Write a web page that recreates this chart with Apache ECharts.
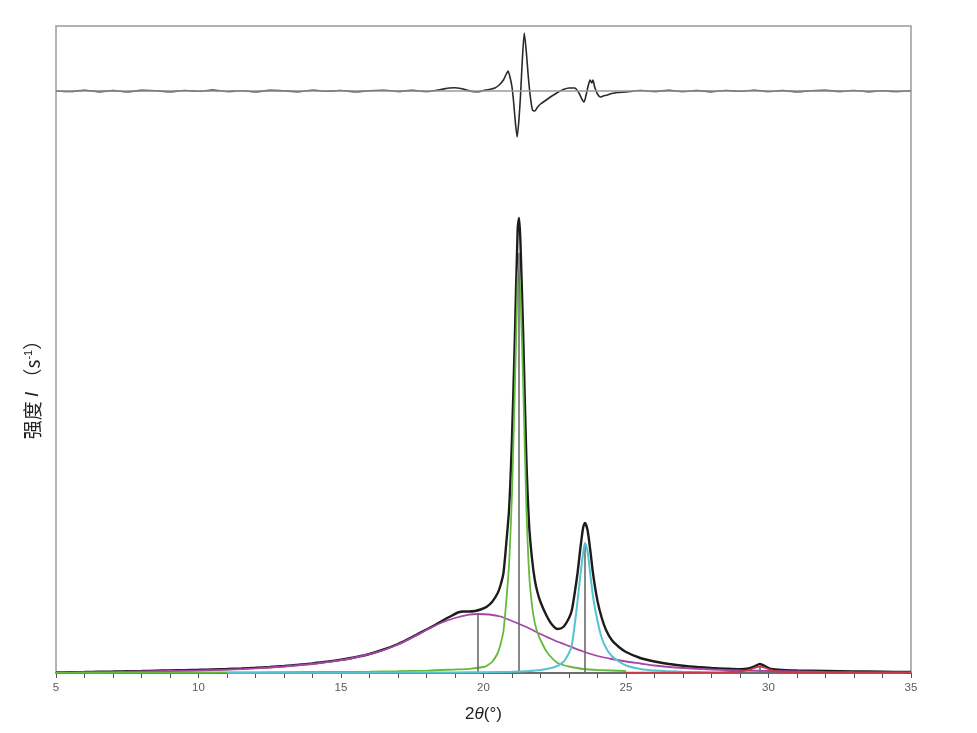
<!DOCTYPE html>
<html>
<head>
<meta charset="utf-8">
<script src="https://cdn.jsdelivr.net/npm/echarts@6/dist/echarts.min.js"></script>
<style>
html,body{margin:0;padding:0;background:#fff;}
#chart{width:977px;height:733px;}
</style>
</head>
<body>
<div id="chart"></div>
<script>
// ---- x-axis ticks ----
const xTicks = [5, 10, 15, 20, 25, 30, 35];

// ---- observed pattern (intensity, arbitrary units) ----
const obsX = [5,5.5,6,6.5,7,7.5,8,8.5,9,9.5,10,10.5,11,11.5,12,12.5,13,13.5,14,14.5,15,15.5,16,16.5,17,17.5,18,18.3,18.6,18.9,19.1,19.3,19.5,19.7,19.9,20.1,20.3,20.5,20.6,20.7,20.8,20.9,21,21.1,21.2,21.25,21.3,21.4,21.5,21.6,21.7,21.8,21.9,22,22.2,22.4,22.6,22.8,23,23.1,23.2,23.3,23.4,23.5,23.56,23.65,23.75,23.85,24,24.15,24.3,24.5,24.75,25,25.5,26,26.5,27,27.5,28,28.5,29,29.3,29.5,29.7,29.9,30.1,30.5,31,32,33,34,35];
const obsY = [0.5,0.8,1.0,1.3,1.5,1.8,2.0,2.3,2.6,2.9,3.2,3.6,4.0,4.5,5.2,6.0,7.0,8.2,9.6,11.2,13.2,15.8,19,23.5,29,36,43.5,48,53,57.5,60.5,61.5,61.5,62,63.5,66,71,80,88,100,130,165,235,335,445,455,428,330,218,148,115,93,80,71,58,48.5,44,46,55,63,80,100,125,146,150,143,122,98,72,55,43,33,26,21,15,11.5,9,7.3,6,5,4.3,3.8,4.5,6.5,9,6.5,4,3,2.5,2,1.6,1.3,1];

// ---- amorphous halo (magenta) ----
const amX = [5,6,7,8,9,10,11,12,13,14,15,15.5,16,16.5,17,17.5,18,18.5,19,19.5,19.8,20.2,20.6,21,21.5,22,22.5,23,23.5,24,24.5,25,25.5,26,27,28,29,30,31,32,33,34,35];
const amY = [0.5,0.8,1.1,1.5,2,2.5,3.4,4.6,6.5,9,12.8,15.5,18.8,23,28.5,35.5,43,50,55,58.3,59,58.5,56.5,52,46,39,32.5,27,21.5,17,14,11.5,9.5,7.5,5,3.5,2.5,2,1.5,1.1,0.8,0.6,0.5];

// ---- crystalline peak 1 (green) ----
const p1X = [5,8,10,12,14,16,17,18,18.5,19,19.5,20,20.1,20.3,20.5,20.6,20.7,20.8,20.9,21,21.1,21.2,21.22,21.3,21.4,21.5,21.6,21.7,21.8,21.9,22,22.2,22.4,22.6,22.8,23,23.5,24,25];
const p1Y = [0.2,0.3,0.5,0.7,1,1.4,1.8,2.4,3,3.5,4.2,6,7,11,20,29,42,72,110,180,285,395,402,375,280,170,100,68,50,40,33,22,15,10,8,6.5,4,3,2];

// ---- crystalline peak 2 (cyan) ----
const p2X = [11,14,17,19,20,21,21.5,22,22.5,22.8,23,23.1,23.2,23.3,23.4,23.5,23.56,23.65,23.75,23.85,24,24.15,24.3,24.5,24.75,25,25.5,26,27,28];
const p2Y = [0.2,0.3,0.4,0.6,0.8,1.2,1.8,3,6,11,20,28,48,72,98,121,130,122,98,75,52,35,25,17,11.5,7.5,4,2.5,1.2,0.6];

// ---- small peak 3 (red) ----
const p3X = [25,26,27,28,28.5,29,29.3,29.5,29.7,29.9,30.1,30.3,30.5,31,32,33,34,35];
const p3Y = [0.3,0.3,0.4,0.5,0.8,1.5,3,5,6.5,5,2.8,1.5,1,0.5,0.4,0.3,0.3,0.3];

// ---- peak positions & heights (drop lines) ----
const peakPos = [19.8, 21.22, 23.56, 29.7];
const peakTop = [59, 420, 130, 6.5];

// ---- residual (difference) curve ----
const resX = [5,5.5,6,6.5,7,7.5,8,8.5,9,9.5,10,10.5,11,11.5,12,12.5,13,13.5,14,14.5,15,15.5,16,16.5,17,17.5,18,18.5,18.8,19,19.2,19.4,19.6,19.8,20,20.2,20.4,20.55,20.7,20.8,20.86,20.92,21,21.06,21.12,21.18,21.24,21.3,21.36,21.43,21.5,21.57,21.64,21.72,21.8,21.9,22,22.2,22.4,22.6,22.8,23,23.2,23.35,23.45,23.53,23.6,23.68,23.74,23.8,23.84,23.9,24,24.1,24.2,24.35,24.5,24.7,25,25.5,26,26.5,27,27.5,28,28.5,29,29.5,30,30.5,31,31.5,32,32.5,33,33.5,34,34.5,35];
const resY = [0,-0.5,0.8,-0.6,0.4,-0.8,0.6,0.2,-0.7,0.5,-0.3,0.9,-0.5,0.3,-0.8,0.6,0.1,-0.6,0.7,-0.2,0.5,-0.7,0.3,0.8,-0.4,0.6,-0.5,1.5,3,3.2,2.5,1,-0.5,-0.8,0.5,1.5,3,6,11,17,20,15,4,-12,-32,-46,-30,-4,30,58,40,15,-5,-19,-20,-16,-13,-9,-5,-1.5,1.5,3,3,-2,-8,-11,-4,6,11,8,11,4,-3,-6,-5,-4,-2.5,-1.5,-1,0.5,-0.4,0.6,-0.5,0.4,-0.6,0.5,-0.3,0.7,-0.5,0.4,-0.7,0.3,0.6,-0.4,0.5,-0.6,0.3,-0.5,0.2];
const resOffset = 582;

const zip = (xs, ys, off) => xs.map((x, i) => [x, ys[i] + (off || 0)]);

const chart = echarts.init(document.getElementById('chart'));
const lineBase = { type: 'line', showSymbol: false, symbol: 'none', smooth: 0.25, silent: true, animation: false };

chart.setOption({
  animation: false,
  backgroundColor: '#ffffff',
  grid: { left: 56, right: 66, top: 26, bottom: 60, show: true, borderColor: '#9a9a9a', borderWidth: 1.5, backgroundColor: 'transparent' },
  xAxis: {
    type: 'value', min: xTicks[0], max: xTicks[xTicks.length - 1], interval: 5,
    axisLine: { show: true, lineStyle: { color: '#555', width: 1.5 } },
    axisTick: { show: true, inside: false, length: 5, lineStyle: { color: '#555', width: 1 } },
    minorTick: { show: true, splitNumber: 5, length: 5, lineStyle: { color: '#555', width: 1 } },
    splitLine: { show: false },
    axisLabel: { color: '#5a5a5a', fontSize: 11.5, margin: 9, fontFamily: 'Liberation Sans' },
    name: '{n|2}{t|θ}{n|(°)}', nameLocation: 'middle', nameGap: 33,
    nameTextStyle: { rich: {
      n: { fontSize: 17, color: '#222', fontFamily: 'Liberation Sans' },
      t: { fontSize: 17, color: '#222', fontStyle: 'italic', fontFamily: 'Liberation Sans' }
    } }
  },
  yAxis: {
    type: 'value', min: 0, max: 647,
    axisLine: { show: false }, axisTick: { show: false }, axisLabel: { show: false }, splitLine: { show: false }
  },
  graphic: [{
    type: 'text', rotation: Math.PI / 2,
    x: 33, y: 385,
    style: {
      text: '{a|强度 }{i|I}{a| （s}{s|-1}{a|）}',
      textAlign: 'center', textVerticalAlign: 'middle',
      rich: {
        a: { fontSize: 19, fill: '#222', fontFamily: 'Noto Sans CJK SC' },
        i: { fontSize: 19, fill: '#222', fontStyle: 'italic', fontFamily: 'Liberation Sans' },
        s: { fontSize: 11, fill: '#222', verticalAlign: 'top', fontFamily: 'Liberation Sans' }
      }
    }
  }],
  series: [
    Object.assign({}, lineBase, { name: 'obs', data: zip(obsX, obsY), z: 2, lineStyle: { color: '#1c1c1c', width: 2.4 } }),
    Object.assign({}, lineBase, { name: 'amorphous', data: zip(amX, amY), z: 3, lineStyle: { color: '#a845a8', width: 1.8 } }),
    Object.assign({}, lineBase, { name: 'p1', data: zip(p1X, p1Y), z: 4, lineStyle: { color: '#62bb3c', width: 1.8 } }),
    Object.assign({}, lineBase, { name: 'p2', data: zip(p2X, p2Y), z: 5, lineStyle: { color: '#56c3d0', width: 2 } }),
    Object.assign({}, lineBase, { name: 'p3', data: zip(p3X, p3Y), z: 6, lineStyle: { color: '#c83a48', width: 1.8 } }),
    Object.assign({}, lineBase, {
      name: 'residual', data: zip(resX, resY, resOffset), z: 3, smooth: 0.2,
      lineStyle: { color: '#2a2a2a', width: 1.6 },
      markLine: { silent: true, symbol: 'none', label: { show: false }, animation: false,
        lineStyle: { color: '#9a9a9a', width: 1.5, type: 'solid' },
        data: [{ yAxis: resOffset }] }
    }),
    {
      type: 'line', name: 'droplines', data: [], silent: true, z: 7,
      markLine: { silent: true, symbol: 'none', label: { show: false }, animation: false,
        lineStyle: { color: '#6a6a6a', width: 1.6, type: 'solid' },
        data: peakPos.map((p, i) => [{ coord: [p, 0] }, { coord: [p, peakTop[i]] }]) }
    }
  ]
});
</script>
</body>
</html>
